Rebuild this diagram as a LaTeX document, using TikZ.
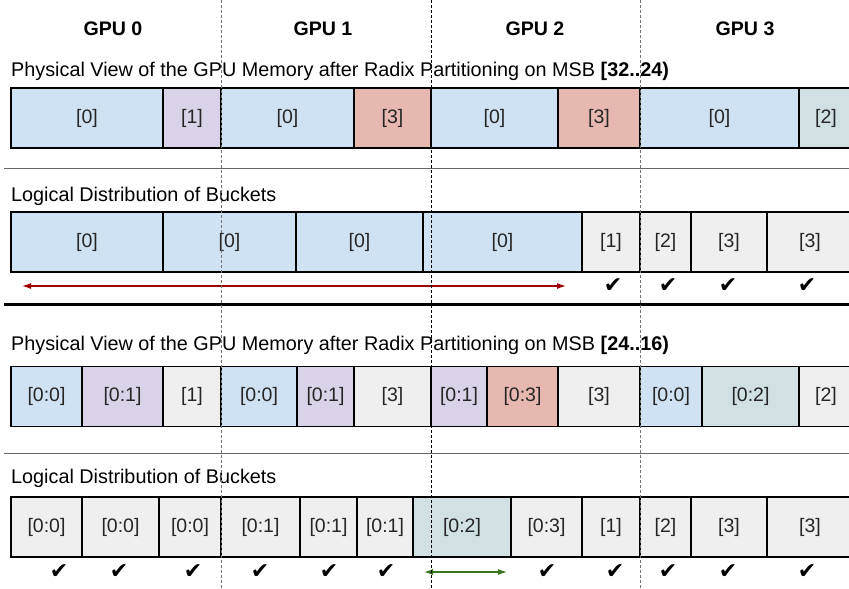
\documentclass[tikz,border=0pt]{standalone}
\usepackage{fontspec}
\setmainfont{Liberation Sans}
\newfontfamily\symfont{DejaVu Sans}
\usetikzlibrary{arrows.meta}
\definecolor{cblue}{HTML}{CFE2F3}
\definecolor{cpurple}{HTML}{D9D2E9}
\definecolor{cred}{HTML}{E6B8AF}
\definecolor{cteal}{HTML}{D0E0E3}
\definecolor{cgray}{HTML}{EFEFEF}
\definecolor{darr}{HTML}{A00000}
\definecolor{garr}{HTML}{38761D}
\begin{document}
\begin{tikzpicture}[x=1pt,y=-1pt,
  box/.style={draw=black,line width=1.1pt,inner sep=0pt,minimum height=60pt,
    font=\fontsize{19.5}{22}\selectfont,text=black!85},
  ttl/.style={anchor=base west,inner sep=0pt,font=\fontsize{19.8}{22}\selectfont},
  gpu/.style={anchor=base,inner sep=0pt,font=\fontsize{19.6}{22}\selectfont\bfseries},
  chk/.style={inner sep=0pt,font=\symfont\fontsize{22}{22}\selectfont},
  divg/.style={draw=black!55,line width=0.9pt,dash pattern=on 3pt off 2pt},
  divk/.style={draw=black,line width=0.8pt,dash pattern=on 3pt off 2pt},
  sepline/.style={draw=black!60,line width=0.9pt},
  thick sep/.style={draw=black,line width=3pt},
  rarr/.style={draw=darr,line width=1.2pt,{Latex[length=9pt,width=6pt]}-{Latex[length=9pt,width=6pt]}},
  garrow/.style={draw=garr,line width=1.2pt,{Latex[length=9pt,width=6pt]}-{Latex[length=9pt,width=6pt]}}]
\useasboundingbox (0,0) rectangle (849,589);
\clip (0,0) rectangle (849,589);
\fill[white] (0,0) rectangle (849,589);

% GPU labels
\node[gpu] (g0) at (113,35) {GPU 0};
\node[gpu] (g1) at (323,35) {GPU 1};
\node[gpu] (g2) at (535,35) {GPU 2};
\node[gpu] (g3) at (745,35) {GPU 3};

% Titles
\node[ttl] (t1) at (11,76) {Physical View of the GPU Memory after Radix Partitioning on MSB \textbf{[32..24)}};
\node[ttl] (t2) at (11,201) {Logical Distribution of Buckets};
\node[ttl] (t3) at (11,350) {Physical View of the GPU Memory after Radix Partitioning on MSB \textbf{[24..16)}};
\node[ttl] (t4) at (11,483) {Logical Distribution of Buckets};

% Row 1
\foreach \l/\r/\c/\t [count=\i] in {11/163/cblue/{[0]},163/221/cpurple/{[1]},221/354/cblue/{[0]},354/431/cred/{[3]},431/558/cblue/{[0]},558/640/cred/{[3]},640/799/cblue/{[0]},799/853/cteal/{[2]}}{
  \pgfmathsetmacro\w{\r-\l}\pgfmathsetmacro\cx{(\l+\r)/2}
  \node[box,fill=\c,minimum width=\w pt] (a\i) at (\cx,118) {\t};}

% Row 2
\foreach \l/\r/\c/\t [count=\i] in {11/163/cblue/{[0]},163/296/cblue/{[0]},296/423/cblue/{[0]},423/582/cblue/{[0]},582/640/cgray/{[1]},640/691/cgray/{[2]},691/767/cgray/{[3]},767/853/cgray/{[3]}}{
  \pgfmathsetmacro\w{\r-\l}\pgfmathsetmacro\cx{(\l+\r)/2}
  \node[box,fill=\c,minimum width=\w pt] (b\i) at (\cx,242) {\t};}

% Row 3
\foreach \l/\r/\c/\t [count=\i] in {11/82/cblue/{[0:0]},82/163/cpurple/{[0:1]},163/221/cgray/{[1]},221/297/cblue/{[0:0]},297/354/cpurple/{[0:1]},354/431/cgray/{[3]},431/487/cpurple/{[0:1]},487/558/cred/{[0:3]},558/640/cgray/{[3]},640/702/cblue/{[0:0]},702/799/cteal/{[0:2]},799/853/cgray/{[2]}}{
  \pgfmathsetmacro\w{\r-\l}\pgfmathsetmacro\cx{(\l+\r)/2}
  \node[box,fill=\c,minimum width=\w pt] (c\i) at (\cx,396.5) {\t};}

% Row 4
\foreach \l/\r/\c/\t [count=\i] in {11/82/cgray/{[0:0]},82/159/cgray/{[0:0]},159/221/cgray/{[0:0]},221/300/cgray/{[0:1]},300/357/cgray/{[0:1]},357/413/cgray/{[0:1]},413/511/cteal/{[0:2]},511/582/cgray/{[0:3]},582/640/cgray/{[1]},640/691/cgray/{[2]},691/767/cgray/{[3]},767/853/cgray/{[3]}}{
  \pgfmathsetmacro\w{\r-\l}\pgfmathsetmacro\cx{(\l+\r)/2}
  \node[box,fill=\c,minimum width=\w pt] (d\i) at (\cx,527) {\t};}

% checks row 2
\node[chk] (k1) at (613,286) {✔};
\node[chk] (k2) at (668,286) {✔};
\node[chk] (k3) at (728,286) {✔};
\node[chk] (k4) at (807,286) {✔};

% checks row 4
\node[chk] (m1) at (59,572) {✔};
\node[chk] (m2) at (119,572) {✔};
\node[chk] (m3) at (193,572) {✔};
\node[chk] (m4) at (260,572) {✔};
\node[chk] (m5) at (329,572) {✔};
\node[chk] (m6) at (386,572) {✔};
\node[chk] (m7) at (547,572) {✔};
\node[chk] (m8) at (615,572) {✔};
\node[chk] (m9) at (668,572) {✔};
\node[chk] (m10) at (728,572) {✔};
\node[chk] (m11) at (807,572) {✔};

% arrows
\coordinate (ra) at (22,286);
\coordinate (rb) at (566,286);
\draw[rarr] (ra) -- (rb);
\coordinate (ga) at (424,572);
\coordinate (gb) at (507,572);
\draw[garrow] (ga) -- (gb);

% separators
\coordinate (s1a) at (4,168); \coordinate (s1b) at (853,168);
\coordinate (s2a) at (4,304); \coordinate (s2b) at (853,304);
\coordinate (s3a) at (4,453); \coordinate (s3b) at (853,453);
\draw[sepline] (s1a) -- (s1b);
\draw[thick sep] (s2a) -- (s2b);
\draw[sepline] (s3a) -- (s3b);

% GPU dividers
\coordinate (v1a) at (221,0); \coordinate (v1b) at (221,589);
\coordinate (v2a) at (431,0); \coordinate (v2b) at (431,589);
\coordinate (v3a) at (640,0); \coordinate (v3b) at (640,589);
\draw[divg] (v1a) -- (v1b);
\draw[divk] (v2a) -- (v2b);
\draw[divg] (v3a) -- (v3b);
\end{tikzpicture}
\end{document}
